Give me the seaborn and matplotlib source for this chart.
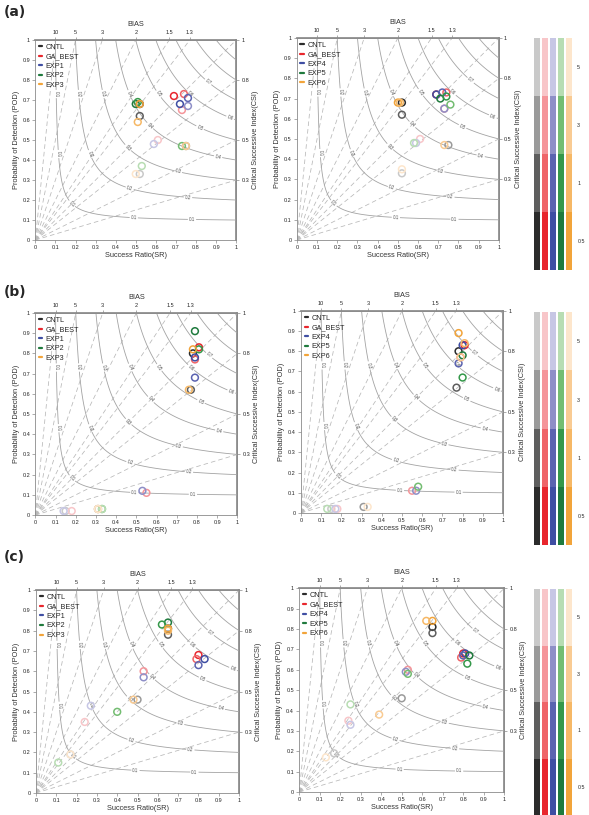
import numpy as np
import pandas as pd
import matplotlib
matplotlib.use("Agg")
import matplotlib.pyplot as plt
import seaborn as sns
from matplotlib.lines import Line2D

# thresholds (mm), darkest shade first
thresholds = ["0.5", "1", "3", "5"]
left_exps = ["CNTL", "GA_BEST", "EXP1", "EXP2", "EXP3"]
right_exps = ["CNTL", "GA_BEST", "EXP4", "EXP5", "EXP6"]

bias_values = [10, 5, 3, 2, 1.5, 1.3, 1, 0.8, 0.5, 0.3]
top_bias = [10, 5, 3, 2, 1.5, 1.3]
right_bias = [1, 0.8, 0.5, 0.3]
csi_levels = [0.1, 0.2, 0.3, 0.4, 0.5, 0.6, 0.7, 0.8, 0.9]

# (a) success ratio / POD, one value per threshold
a_left_sr = {"CNTL": [0.52, 0.52, 0.75, 0.52], "GA_BEST": [0.69, 0.74, 0.73, 0.61],
             "EXP1": [0.72, 0.76, 0.76, 0.59], "EXP2": [0.50, 0.51, 0.73, 0.53],
             "EXP3": [0.52, 0.51, 0.75, 0.50]}
a_left_pod = {"CNTL": [0.68, 0.62, 0.47, 0.33], "GA_BEST": [0.72, 0.73, 0.65, 0.50],
              "EXP1": [0.68, 0.71, 0.67, 0.48], "EXP2": [0.68, 0.69, 0.47, 0.37],
              "EXP3": [0.68, 0.59, 0.47, 0.33]}
a_right_sr = {"CNTL": [0.52, 0.52, 0.75, 0.52], "GA_BEST": [0.69, 0.74, 0.73, 0.61],
              "EXP4": [0.69, 0.72, 0.73, 0.59], "EXP5": [0.71, 0.74, 0.76, 0.58],
              "EXP6": [0.50, 0.51, 0.73, 0.52]}
a_right_pod = {"CNTL": [0.68, 0.62, 0.47, 0.33], "GA_BEST": [0.72, 0.73, 0.65, 0.50],
               "EXP4": [0.72, 0.73, 0.65, 0.48], "EXP5": [0.70, 0.71, 0.67, 0.48],
               "EXP6": [0.68, 0.68, 0.47, 0.35]}

# (b)
b_left_sr = {"CNTL": [0.78, 0.77, 0.31, 0.15], "GA_BEST": [0.81, 0.79, 0.55, 0.18],
             "EXP1": [0.79, 0.79, 0.53, 0.14], "EXP2": [0.79, 0.81, 0.33, 0.33],
             "EXP3": [0.78, 0.76, 0.31, 0.31]}
b_left_pod = {"CNTL": [0.80, 0.62, 0.03, 0.02], "GA_BEST": [0.83, 0.77, 0.11, 0.02],
              "EXP1": [0.78, 0.68, 0.12, 0.02], "EXP2": [0.91, 0.82, 0.03, 0.03],
              "EXP3": [0.82, 0.62, 0.03, 0.03]}
b_right_sr = {"CNTL": [0.78, 0.77, 0.31, 0.15], "GA_BEST": [0.81, 0.79, 0.55, 0.18],
              "EXP4": [0.80, 0.78, 0.57, 0.17], "EXP5": [0.80, 0.80, 0.58, 0.13],
              "EXP6": [0.78, 0.81, 0.79, 0.33]}
b_right_pod = {"CNTL": [0.80, 0.62, 0.03, 0.02], "GA_BEST": [0.83, 0.77, 0.11, 0.02],
               "EXP4": [0.83, 0.74, 0.11, 0.02], "EXP5": [0.78, 0.67, 0.13, 0.02],
               "EXP6": [0.89, 0.84, 0.77, 0.03]}

# (c)
c_left_sr = {"CNTL": [0.65, 0.65, 0.50, 0.17], "GA_BEST": [0.80, 0.79, 0.53, 0.24],
             "EXP1": [0.83, 0.80, 0.53, 0.27], "EXP2": [0.65, 0.62, 0.40, 0.11],
             "EXP3": [0.65, 0.65, 0.48, 0.17]}
c_left_pod = {"CNTL": [0.81, 0.78, 0.46, 0.19], "GA_BEST": [0.68, 0.66, 0.60, 0.35],
              "EXP1": [0.66, 0.63, 0.57, 0.43], "EXP2": [0.84, 0.83, 0.40, 0.15],
              "EXP3": [0.81, 0.80, 0.46, 0.19]}
c_right_sr = {"CNTL": [0.65, 0.65, 0.50, 0.17], "GA_BEST": [0.80, 0.79, 0.53, 0.24],
              "EXP4": [0.81, 0.80, 0.52, 0.25], "EXP5": [0.83, 0.82, 0.53, 0.25],
              "EXP6": [0.65, 0.62, 0.39, 0.13]}
c_right_pod = {"CNTL": [0.81, 0.78, 0.46, 0.19], "GA_BEST": [0.68, 0.66, 0.60, 0.35],
               "EXP4": [0.68, 0.67, 0.59, 0.33], "EXP5": [0.67, 0.63, 0.58, 0.43],
               "EXP6": [0.84, 0.84, 0.38, 0.17]}

shades = {
    "black": ["#2b2b2b", "#5e5e5e", "#9a9a9a", "#c9c9c9"],
    "red": ["#e8262d", "#ef6468", "#f5959a", "#f8c6c9"],
    "blue": ["#3f4ea3", "#5b63b0", "#8e8fc7", "#c7c7e5"],
    "green": ["#1f7a3d", "#35984a", "#74bd72", "#b8ddb3"],
    "orange": ["#f2a43a", "#f6b866", "#f9cb93", "#fde6cc"],
}
families = ["black", "red", "blue", "green", "orange"]
exp_family = {"CNTL": "black", "GA_BEST": "red", "EXP1": "blue", "EXP4": "blue",
              "EXP2": "green", "EXP5": "green", "EXP3": "orange", "EXP6": "orange"}

sns.set_theme(style="ticks")
plt.rcParams["font.family"] = ["Liberation Sans", "DejaVu Sans"]

GRAY = "#8a8a8a"


def csi_pod(c, sr):
    return 1.0 / (1.0 / c + 1.0 - 1.0 / sr)


def csi_sr(c, pod):
    return 1.0 / (1.0 / c + 1.0 - 1.0 / pod)


def label_spots():
    spots = [(csi_sr(c, 0.73), 0.73) for c in [0.1, 0.2, 0.3, 0.4, 0.5, 0.6]]
    spots += [(0.86, csi_pod(0.7, 0.86))]
    spots += [(csi_sr(0.1, 0.43), 0.43), (csi_sr(0.2, 0.43), 0.43)]
    spots += [(2 * c / (1 + c), 2 * c / (1 + c)) for c in [0.1, 0.3, 0.4]]
    for c, s in [(0.1, 0.49), (0.1, 0.78), (0.2, 0.47), (0.2, 0.76), (0.3, 0.71),
                 (0.4, 0.91), (0.5, 0.82), (0.6, 0.97)]:
        spots.append((s, csi_pod(c, s)))
    return spots


def draw_panel(ax, sr, pod, exps):
    # CSI contours
    grid = np.linspace(0.002, 1, 400)
    xx, yy = np.meshgrid(grid, grid)
    csi = 1.0 / (1.0 / xx + 1.0 / yy - 1.0)
    cs = ax.contour(xx, yy, csi, levels=csi_levels, colors="#a3a3a3", linewidths=0.6)
    ax.clabel(cs, fmt="%.1f", fontsize=3.3, inline=True, inline_spacing=1,
              manual=label_spots(), colors="#555555")

    # bias lines
    for b in bias_values:
        xe, ye = (1.0 / b, 1.0) if b >= 1 else (1.0, b)
        ax.plot([0, xe], [0, ye], color="#b8b8b8", lw=0.55, ls=(0, (6, 4)), zorder=1)

    rows = []
    palette = {}
    for e in exps:
        fam = exp_family[e]
        for i, t in enumerate(thresholds):
            key = f"{e}_{t}"
            rows.append({"sr": sr[e][i], "pod": pod[e][i], "key": key})
            palette[key] = shades[fam][i]
    df = pd.DataFrame(rows)
    sns.scatterplot(data=df, x="sr", y="pod", hue="key", palette=palette, s=24,
                    marker="o", linewidth=1.1, legend=False, ax=ax, zorder=5)
    coll = ax.collections[-1]
    coll.set_edgecolors(coll.get_facecolors())
    coll.set_facecolors("none")

    ax.set_xlim(0, 1)
    ax.set_ylim(0, 1)
    ticks = np.round(np.arange(0, 1.01, 0.1), 1)
    ax.set_xticks(ticks)
    ax.set_xticklabels([f"{t:g}" for t in ticks])
    ax.set_yticks(ticks)
    ax.set_yticklabels([f"{t:g}" for t in ticks])
    ax.tick_params(labelsize=4, length=2.2, width=0.5, color=GRAY, pad=1.5)
    for sp in ax.spines.values():
        sp.set_color(GRAY)
        sp.set_linewidth(0.6)
        sp.set_visible(True)
    ax.set_xlabel("Success Ratio(SR)", fontsize=5.3, labelpad=1.5, color="#333333")
    ax.set_ylabel("Probability of Detection (POD)", fontsize=5.3, labelpad=2,
                  color="#333333")

    top = ax.secondary_xaxis("top")
    top.set_xticks([1.0 / b for b in top_bias])
    top.set_xticklabels([f"{b:g}" for b in top_bias])
    top.tick_params(labelsize=4, length=2.2, width=0.5, color=GRAY, pad=1.5)
    top.set_xlabel("BIAS", fontsize=5.3, labelpad=3, color="#333333")
    top.spines["top"].set_color(GRAY)

    right = ax.secondary_yaxis("right")
    right.set_yticks(right_bias)
    right.set_yticklabels([f"{b:g}" for b in right_bias])
    right.tick_params(labelsize=4, length=2.2, width=0.5, color=GRAY, pad=1.5)
    right.set_ylabel("Critical Successive Index(CSI)", fontsize=5.3, labelpad=2,
                     color="#333333")
    right.spines["right"].set_color(GRAY)

    handles = [Line2D([0], [0], color=shades[exp_family[e]][0], lw=1.6) for e in exps]
    ax.legend(handles, exps, loc="upper left", frameon=False, fontsize=5.2,
              handlelength=0.45, handletextpad=0.5, labelspacing=0.35,
              borderaxespad=0.3, borderpad=0.2)


def draw_key(ax):
    # darkest (0.5) at the bottom, lightest (5) at the top
    for i, fam in enumerate(families):
        for j in range(len(thresholds)):
            ax.bar(i, 1, bottom=j, width=0.75, color=shades[fam][j], linewidth=0)
    ax.set_xlim(-0.5, 4.5)
    ax.set_ylim(0, 4)
    ax.set_xticks([])
    ax.yaxis.tick_right()
    ax.set_yticks([j + 0.5 for j in range(len(thresholds))])
    ax.set_yticklabels(thresholds)
    ax.tick_params(axis="y", length=0, labelsize=3.8, pad=3)
    for sp in ax.spines.values():
        sp.set_visible(False)


fig = plt.figure(figsize=(5.89, 8.15), dpi=100)

panels = [
    ([0.060, 0.7055, 0.341, 0.2454], a_left_sr, a_left_pod, left_exps),
    ([0.504, 0.7055, 0.343, 0.2480], a_right_sr, a_right_pod, right_exps),
    ([0.060, 0.3680, 0.343, 0.2480], b_left_sr, b_left_pod, left_exps),
    ([0.511, 0.3706, 0.343, 0.2480], b_right_sr, b_right_pod, right_exps),
    ([0.061, 0.0270, 0.345, 0.2490], c_left_sr, c_left_pod, left_exps),
    ([0.508, 0.0282, 0.348, 0.2500], c_right_sr, c_right_pod, right_exps),
]
for rect, sr, pod, exps in panels:
    ax = fig.add_axes(rect)
    draw_panel(ax, sr, pod, exps)

for rect in [[0.905, 0.669, 0.068, 0.284], [0.905, 0.331, 0.068, 0.286],
             [0.905, 0.000, 0.068, 0.277]]:
    draw_key(fig.add_axes(rect))

for y, lab in [(0.985, "(a)"), (0.642, "(b)"), (0.317, "(c)")]:
    fig.text(0.006, y, lab, fontsize=10, fontweight="bold", va="center",
             family=["DejaVu Sans"])

fig.savefig("out.png", dpi=100)
